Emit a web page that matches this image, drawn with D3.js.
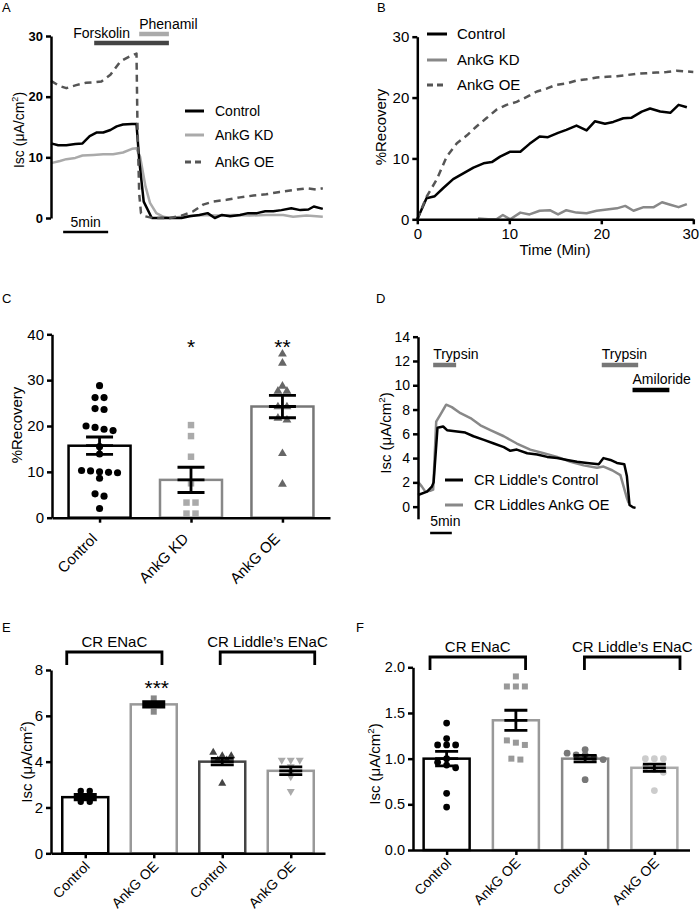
<!DOCTYPE html>
<html><head><meta charset="utf-8">
<script src="https://cdn.jsdelivr.net/npm/d3@7"></script>
<style>body{margin:0;background:#fff}svg{display:block}</style>
</head><body>
<svg id="c" width="700" height="918"></svg>
<script>
// ---------------- DATA ----------------
// Panel A: time (min) vs Isc (µA/cm²)
const aControl = [[0,12.3],[0.8,12.0],[1.7,12.0],[2.7,12.2],[3.5,12.3],[4.3,13.5],[5.1,14.1],[5.8,14.1],[6.6,14.5],[7.3,15.1],[8.0,15.4],[9.0,15.5],[9.5,15.5],[9.8,9.6],[10.3,2.7],[11.2,0],[13.2,0],[14.5,0],[15.4,0.3],[16.5,0.5],[17.4,0.8],[18.2,0],[19.0,0.5],[19.9,0.3],[21.0,0.5],[21.9,0.8],[22.9,0.8],[23.8,1.1],[24.7,1.1],[25.6,1.3],[26.7,1.6],[27.7,1.3],[28.6,1.4],[29.2,1.9],[30.2,1.5]];
const aKD = [[0,9.05],[1.0,9.4],[1.7,9.7],[2.7,9.9],[3.5,10.3],[4.7,10.4],[5.8,10.5],[6.9,10.5],[8.0,10.8],[9.0,11.4],[9.5,11.5],[9.9,10.1],[10.5,5.2],[11.0,2.5],[11.7,0.8],[12.5,0.2],[13.2,0],[15.0,0.3],[16.5,0.5],[18.4,0.4],[20.3,0.5],[22.1,0.4],[23.9,0.5],[25.8,0.5],[26.9,0.2],[28.4,0.4],[30.2,0.2]];
const aOE = [[0,22.6],[0.9,21.8],[1.7,21.4],[2.8,21.9],[3.9,22.3],[5.0,22.4],[5.6,22.5],[6.6,23.6],[7.7,25.8],[8.7,26.6],[9.5,27.1],[9.6,16],[9.8,4],[10.0,0.8],[10.4,0.3],[11.3,0],[13.2,0],[14.5,0.4],[15.8,1.1],[16.9,2.2],[18.0,2.7],[19.5,3.0],[21.0,3.4],[22.5,3.7],[23.9,3.9],[25.4,4.3],[26.9,4.6],[28.4,4.9],[29.5,4.7],[30.2,4.9]];
const aTicks = [0,10,20,30];
const aTreatments = [{label:"Forskolin", start:4.8, end:13.1},{label:"Phenamil", start:9.8, end:13.1}];
const aSeriesNames = ["Control","AnkG KD","AnkG OE"];

// Panel B: %Recovery vs time
const bControl = [[0,0],[1.0,3.45],[1.9,3.8],[2.8,5.1],[3.9,6.6],[5.0,7.55],[6.1,8.5],[7.2,9.2],[8.1,9.4],[9.0,10.3],[10.1,11.1],[11.2,11.1],[12.2,12.4],[13.3,13.6],[14.2,13.5],[15.3,14.2],[16.2,14.7],[17.3,15.4],[18.4,14.6],[19.3,16.1],[20.4,15.7],[21.3,16.0],[22.4,16.6],[23.3,16.7],[24.4,17.7],[25.3,18.2],[26.4,17.7],[27.5,17.5],[28.4,18.8],[29.3,18.4]];
const bKD = [[6.6,0.15],[7.7,0],[8.6,0],[9.3,0.7],[10.1,0],[11.2,1.1],[12.2,0.8],[13.3,1.4],[14.4,1.5],[15.3,0.8],[16.2,1.5],[17.3,1.1],[18.4,1.0],[19.5,1.4],[20.6,1.6],[21.7,1.8],[22.6,2.2],[23.5,1.4],[24.6,2.0],[25.7,2.0],[26.6,2.8],[27.5,2.4],[28.4,2.0],[29.3,2.5]];
const bOE = [[0,0],[1,3.7],[2.1,6.5],[3.2,10.3],[4.3,12.5],[5.4,13.8],[6.4,15.2],[7.5,16.6],[8.6,18],[9.7,18.8],[10.8,19.3],[11.9,20.1],[13,21],[14.1,21.5],[15.1,22.1],[16.2,22.3],[17.3,22.8],[18.4,23],[19.5,23.3],[20.6,23.4],[21.7,23.5],[22.8,23.7],[23.8,23.9],[24.9,24],[26,24.1],[27.1,24.2],[28.2,24.4],[30,24.2]];
const bTicks = [0,10,20,30];

// Panel C: %Recovery bars
const cCategories = ["Control","AnkG KD","AnkG OE"];
const cMeans = [15.7, 8.25, 24.25];
const cSEM = [1.9, 2.75, 2.45];
const cControlPts = [28.8,26.2,26.2,23.8,23.6,20.0,19.7,19.3,19.0,15.5,13.9,10.3,10.2,10.0,9.9,9.8,8.6,5.2,4.7,2.0];
const cKDPts = [20.2,17.8,13.3,7.5,3.3,3.3,0.9,0.9];
const cOEPts = [35.7,33.7,28.7,27.6,27.6,24.2,24.2,21.7,21.3,14.0,7.3];
const cStars = ["","*","**"];
const cTicks = [0,10,20,30,40];

// Panel D: Isc traces
const dControl = [[0,0.96],[2.1,1.24],[3.2,1.65],[3.6,2.0],[4.5,6.5],[5.8,6.6],[6.7,6.3],[9,6.2],[10.9,6.1],[12.8,5.8],[15.2,5.5],[17.5,5.2],[19.8,4.9],[21.3,4.6],[22.8,4.7],[25.2,4.4],[27.5,4.3],[29.8,4.1],[32.1,4.0],[34.4,3.85],[36.7,3.7],[39,3.6],[41.7,3.5],[42.8,4.0],[44.4,3.85],[45.9,3.6],[47.6,3.5],[48.2,2.5],[48.8,0.14],[49.6,-0.05],[50.2,-0.1]];
const dOE = [[0,2.06],[0.9,1.65],[1.7,1.24],[2.8,1.3],[3.5,1.4],[4.2,7.0],[5.2,7.6],[6.5,8.4],[7.8,8.2],[9.8,7.7],[12.1,7.3],[14.4,6.7],[16.7,6.3],[19.8,5.8],[22.8,5.2],[25.9,4.7],[29,4.4],[32.1,4.1],[35.2,3.7],[38.2,3.4],[41.3,3.2],[42.8,3.3],[44.8,3.0],[46.7,2.6],[48.2,0.7],[48.6,0.3]];
const dTicks = [0,2,4,6,8,10,12,14];
const dTreatments = [{label:"Trypsin", start:3.5, end:8.8},{label:"Trypsin", start:42.4, end:50.8},{label:"Amiloride", start:49.5, end:58}];
const dSeriesNames = ["CR Liddle's Control","CR Liddles AnkG OE"];

// Panel E
const eLabels = ["Control","AnkG OE","Control","AnkG OE"];
const eMeans = [2.45, 6.5, 4.0, 3.6];
const eSEM = [0.12, 0.12, 0.14, 0.17];
const ePts = [[2.72,2.72,2.47,2.25,2.25],[6.76,6.47,6.47,6.18],[4.4,4.25,4.25,4.07,4.07,3.05],[4.07,4.07,4.07,3.78,3.52,3.35,2.7]];
const eTicks = [0,2,4,6,8];
const eStars = ["","***","",""];
const groupLabels = ["CR ENaC","CR Liddle\u2019s ENaC"];

// Panel F
const fMeans = [1.0, 1.42, 1.0, 0.9];
const fSEM = [0.08, 0.11, 0.035, 0.04];
const fPts = [[1.39,1.22,1.15,1.15,1.15,1.0,0.96,0.93,0.9,0.62,0.47],[1.9,1.79,1.79,1.79,1.2,1.175,1.15,1.0,0.99],[1.1,1.06,1.04,1.04,1.01,0.99,0.77],[1.0,1.0,1.0,0.91,0.88,0.85,0.65]];
const fTicks = [0,0.5,1.0,1.5,2.0];

// ---------------- DRAWING ----------------
const FONT = '"Liberation Sans", Arial, Helvetica, sans-serif';
const svg = d3.select('#c').attr('font-family', FONT);
const LW = 2.5;

function styleAxis(g, size, bold) {
  g.attr('font-family', FONT).attr('font-size', size);
  g.select('.domain').attr('stroke','#000').attr('stroke-width',LW);
  g.selectAll('.tick line').attr('stroke','#000').attr('stroke-width',LW);
  g.selectAll('.tick text').attr('fill','#000').attr('font-weight', bold ? 'bold' : 'normal');
}
function series(data, x, y, color, dash, w) {
  svg.append('path').datum(data).attr('fill','none').attr('stroke',color)
    .attr('stroke-width', w || LW).attr('stroke-linejoin','round')
    .attr('stroke-dasharray', dash || null)
    .attr('d', d3.line().x(d=>x(d[0])).y(d=>y(d[1])));
}
function text(x, y, s, size, anchor, weight) {
  return svg.append('text').attr('x',x).attr('y',y).attr('font-size',size)
    .attr('text-anchor',anchor||'start').attr('font-weight',weight||'normal').attr('fill','#000').text(s);
}
function iscTitle(x, y, size) {
  const t = svg.append('text').attr('transform',`translate(${x},${y}) rotate(-90)`)
    .attr('text-anchor','middle').attr('font-size',size).attr('fill','#000');
  t.append('tspan').text('Isc (\u03bcA/cm');
  t.append('tspan').attr('font-size',size*0.65).attr('dy',-size*0.42).text('2');
  t.append('tspan').attr('dy',size*0.42).text(')');
}
function rotTitle(x, y, s, size) {
  svg.append('text').attr('transform',`translate(${x},${y}) rotate(-90)`)
    .attr('text-anchor','middle').attr('font-size',size).attr('fill','#000').text(s);
}
function legend(items, x0, x1, ys, tx, size) {
  items.forEach((it,i)=>{
    svg.append('line').attr('x1',x0).attr('x2',x1).attr('y1',ys[i]).attr('y2',ys[i])
      .attr('stroke',it.color).attr('stroke-width',3).attr('stroke-dasharray',it.dash||null);
    text(tx, ys[i]+size*0.36, it.name, size);
  });
}
function swarm(vals, y, tol, spacing) {
  const s = vals.slice().sort((a,b)=>b-a);
  const groups = []; let cur = [];
  s.forEach(v=>{
    if (cur.length && Math.abs(y(cur[cur.length-1]) - y(v)) > tol) { groups.push(cur); cur = []; }
    cur.push(v);
  });
  if (cur.length) groups.push(cur);
  const out = [];
  groups.forEach(g=>g.forEach((v,k)=>out.push({v, dx:(k-(g.length-1)/2)*spacing})));
  return out;
}
function barPanel(o) {
  o.means.forEach((m,i)=>{
    const cx = o.x(i);
    svg.append('rect').attr('x',cx-o.barW/2).attr('y',o.y(m)).attr('width',o.barW)
      .attr('height',o.y(0)-o.y(m)).attr('fill','#fff').attr('stroke',o.barColors[i]).attr('stroke-width',LW);
  });
  o.pts.forEach((vals,i)=>{
    swarm(vals, o.y, o.tol, o.spacing).forEach(p=>{
      svg.append('path').attr('d', d3.symbol(o.shapes[i], o.sizes[i])())
        .attr('transform',`translate(${o.x(i)+p.dx},${o.y(p.v)})${o.flip[i]?' rotate(180)':''}`)
        .attr('fill', o.ptColors[i]);
    });
  });
  o.means.forEach((m,i)=>{
    const cx = o.x(i), hw = o.capW/2;
    const top = o.y(m+o.sems[i]), bot = o.y(m-o.sems[i]), mid = o.y(m);
    const p = `M${cx-hw},${top}H${cx+hw}M${cx-hw},${mid}H${cx+hw}M${cx-hw},${bot}H${cx+hw}M${cx},${top}V${bot}`;
    svg.append('path').attr('d',p).attr('stroke','#000').attr('stroke-width',LW+0.3).attr('fill','none');
  });
}

// ===== Panel A =====
text(2,12,'A',13);
const xA = d3.scaleLinear().domain([0,30]).range([51,321]);
const yA = d3.scaleLinear().domain([0,30]).range([218,36]);
series(aKD, xA, yA, '#aaa');
series(aControl, xA, yA, '#000');
series(aOE, xA, yA, '#555', '7,5');
const gA = svg.append('g').attr('transform','translate(51,0)')
  .call(d3.axisLeft(yA).tickValues(aTicks).tickSize(5).tickSizeOuter(0).tickPadding(3));
styleAxis(gA, 13, true);
iscTitle(24, 130, 14);
const aTrColors = ['#444','#aaa'], aTrY = [43,34], aTxtDx = [-21,0];
aTreatments.forEach((t,i)=>{
  svg.append('line').attr('x1',xA(t.start)).attr('x2',xA(t.end)).attr('y1',aTrY[i]).attr('y2',aTrY[i])
    .attr('stroke',aTrColors[i]).attr('stroke-width',4.5);
  text(xA(t.start)+aTxtDx[i], aTrY[i]-5, t.label, 14);
});
svg.append('line').attr('x1',xA(1.35)).attr('x2',xA(6.35)).attr('y1',232).attr('y2',232).attr('stroke','#000').attr('stroke-width',2.5);
text((xA(1.35)+xA(6.35))/2, 227, '5min', 14, 'middle');
legend([{name:aSeriesNames[0],color:'#000'},{name:aSeriesNames[1],color:'#aaa'},{name:aSeriesNames[2],color:'#555',dash:'6,4'}],
  185, 204, [111,135,162], 215, 14);

// ===== Panel B =====
text(377,12,'B',13);
const xB = d3.scaleLinear().domain([0,30]).range([417.3,693.3]);
const yB = d3.scaleLinear().domain([0,30]).range([219.3,36.7]);
series(bKD, xB, yB, '#888');
series(bControl, xB, yB, '#000');
series(bOE, xB, yB, '#555', '7,5');
const gBy = svg.append('g').attr('transform','translate(417.3,0)')
  .call(d3.axisLeft(yB).tickValues(bTicks).tickSize(5).tickSizeOuter(0).tickPadding(3));
styleAxis(gBy, 15, false);
const gBx = svg.append('g').attr('transform','translate(0,219.3)')
  .call(d3.axisBottom(xB).tickValues(bTicks).tickSize(5).tickSizeOuter(0).tickPadding(4));
styleAxis(gBx, 15, false);
gBx.selectAll('.tick text').filter(d=>d===bTicks[bTicks.length-1]).attr('dx',-3);
rotTitle(386, 127, '%Recovery', 15);
text(555, 255, 'Time (Min)', 15, 'middle');
legend([{name:aSeriesNames[0],color:'#000'},{name:aSeriesNames[1],color:'#888'},{name:aSeriesNames[2],color:'#555',dash:'6,4'}],
  427, 447, [34,60,85], 457, 15);

// ===== Panel C =====
text(2,303,'C',13);
const yC = d3.scaleLinear().domain([0,40]).range([517.7,334.3]);
const xCp = d3.scalePoint().domain(d3.range(cCategories.length)).range([52,330]).padding(0.52);
barPanel({x:xCp, y:yC, means:cMeans, sems:cSEM, pts:[cControlPts,cKDPts,cOEPts],
  barColors:['#000','#888','#777'], ptColors:['#000','#aaa','#666'],
  shapes:[d3.symbolCircle,d3.symbolSquare,d3.symbolTriangle], sizes:[40,42,34], flip:[false,false,false],
  barW:62, capW:27, tol:4, spacing:9});
const gCy = svg.append('g').attr('transform','translate(52,0)')
  .call(d3.axisLeft(yC).tickValues(cTicks).tickSize(5).tickSizeOuter(0).tickPadding(3));
styleAxis(gCy, 15, false);
const gCx = svg.append('g').attr('transform','translate(0,517.7)')
  .call(d3.axisBottom(xCp).tickFormat(i=>cCategories[i]).tickSize(5).tickSizeOuter(0));
styleAxis(gCx, 15, false);
gCx.selectAll('.tick text').attr('text-anchor','end').attr('x',0).attr('y',0).attr('dy',0)
  .attr('transform','translate(-2,22) rotate(-45)');
rotTitle(22, 425, '%Recovery', 15);
cStars.forEach((s,i)=>{ if (s) text(xCp(i), 354, s, 21, 'middle'); });

// ===== Panel D =====
text(376,303,'D',13);
const xD = d3.scaleLinear().domain([0,50]).range([418,634.7]);
const yD = d3.scaleLinear().domain([-1,14]).range([518.8,336.7]);
series(dOE, xD, yD, '#888');
series(dControl, xD, yD, '#000');
const gD = svg.append('g').attr('transform','translate(418,0)')
  .call(d3.axisLeft(yD).tickValues(dTicks).tickSize(5).tickSizeOuter(0).tickPadding(3));
styleAxis(gD, 14, false);
iscTitle(391, 433, 15);
const dTrColors = ['#777','#777','#000'], dTrY = [365,365,390];
dTreatments.forEach((t,i)=>{
  svg.append('line').attr('x1',xD(t.start)).attr('x2',xD(t.end)).attr('y1',dTrY[i]).attr('y2',dTrY[i])
    .attr('stroke',dTrColors[i]).attr('stroke-width',4.5);
  text(xD(t.start), dTrY[i]-6, t.label, 14);
});
svg.append('line').attr('x1',xD(2.8)).attr('x2',xD(7.8)).attr('y1',533).attr('y2',533).attr('stroke','#000').attr('stroke-width',2.5);
text(xD(2.8), 526, '5min', 14);
legend([{name:dSeriesNames[0],color:'#000'},{name:dSeriesNames[1],color:'#888'}], 445, 463, [480,505], 474, 14.5);

// ===== Panel E =====
text(2,632,'E',13);
const yE = d3.scaleLinear().domain([0,8]).range([853.3,670]);
const xE = d3.scalePoint().domain(d3.range(4)).range([51,325]).padding(0.5);
const stepE = xE.step();
barPanel({x:xE, y:yE, means:eMeans, sems:eSEM, pts:ePts,
  barColors:['#000','#999','#444','#999'], ptColors:['#000','#888','#444','#aaa'],
  shapes:[d3.symbolCircle,d3.symbolSquare,d3.symbolTriangle,d3.symbolTriangle], sizes:[32,36,28,28], flip:[false,false,false,true],
  barW:46, capW:23, tol:3.5, spacing:9});
const gEy = svg.append('g').attr('transform','translate(51,0)')
  .call(d3.axisLeft(yE).tickValues(eTicks).tickSize(5).tickSizeOuter(0).tickPadding(3));
styleAxis(gEy, 15, false);
const gEx = svg.append('g').attr('transform','translate(0,853.3)')
  .call(d3.axisBottom(xE).tickFormat(i=>eLabels[i]).tickSize(5).tickSizeOuter(0));
styleAxis(gEx, 14, false);
gEx.selectAll('.tick text').attr('text-anchor','end').attr('x',0).attr('y',0).attr('dy',0)
  .attr('transform','translate(5,14) rotate(-45)');
iscTitle(32, 762, 15);
eStars.forEach((s,i)=>{ if (s) text(xE(i)+3, 695, s, 21, 'middle'); });
function brackets(x, step, spans, yTop, yBot, yText) {
  spans.forEach((sp,k)=>{
    const x1 = x(0)+sp[0]*step, x2 = x(0)+sp[1]*step;
    svg.append('path').attr('d',`M${x1},${yBot}V${yTop}H${x2}V${yBot}`).attr('fill','none')
      .attr('stroke','#000').attr('stroke-width',LW+0.3);
    text((x1+x2)/2, yText, groupLabels[k], 15, 'middle');
  });
}
brackets(xE, stepE, [[-0.27,1.12],[1.97,3.35]], 652, 665, 647);

// ===== Panel F =====
text(356,632,'F',13);
const yF = d3.scaleLinear().domain([0,2]).range([850,667.3]);
const xF = d3.scalePoint().domain(d3.range(4)).range([412,689]).padding(0.5);
const stepF = xF.step();
barPanel({x:xF, y:yF, means:fMeans, sems:fSEM, pts:fPts,
  barColors:['#000','#999','#888','#aaa'], ptColors:['#000','#999','#777','#ccc'],
  shapes:[d3.symbolCircle,d3.symbolSquare,d3.symbolCircle,d3.symbolCircle], sizes:[36,36,36,36], flip:[false,false,false,false],
  barW:46, capW:23, tol:3.5, spacing:9});
const gFy = svg.append('g').attr('transform','translate(413,0)')
  .call(d3.axisLeft(yF).tickValues(fTicks).tickFormat(d3.format('.1f')).tickSize(5).tickSizeOuter(0).tickPadding(3));
styleAxis(gFy, 14.5, false);
const gFx = svg.append('g').attr('transform','translate(0,850)')
  .call(d3.axisBottom(xF).tickFormat(i=>eLabels[i]).tickSize(5).tickSizeOuter(0));
gFx.select('.domain').attr('d','M413,0.5H690');
styleAxis(gFx, 14, false);
gFx.selectAll('.tick text').attr('text-anchor','end').attr('x',0).attr('y',0).attr('dy',0)
  .attr('transform','translate(5,14) rotate(-45)');
iscTitle(380, 764, 15);
brackets(xF, stepF, [[-0.24,1.14],[1.99,3.37]], 657, 670, 652);
</script>
</body></html>
